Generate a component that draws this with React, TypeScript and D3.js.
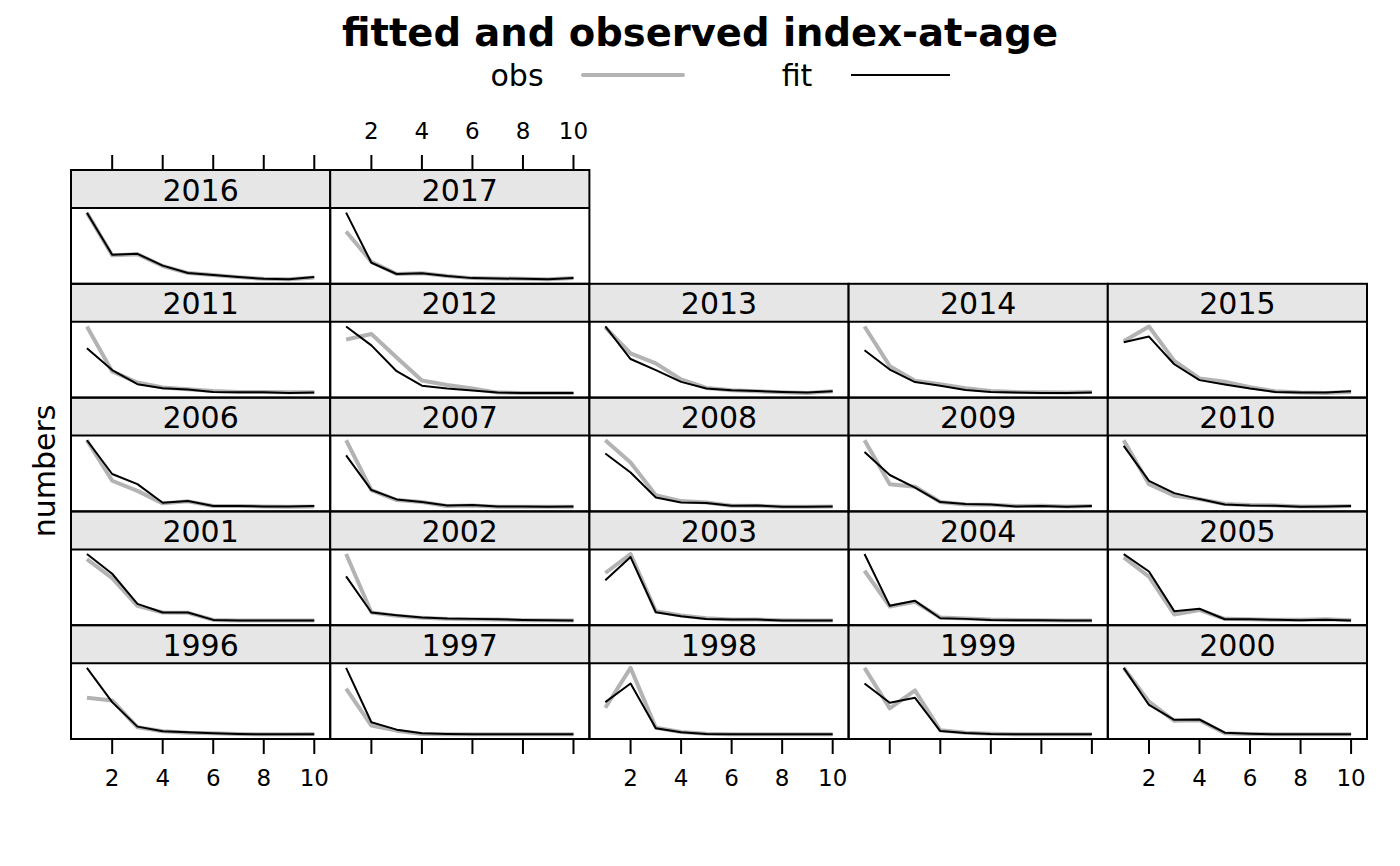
import React from "react";
import * as d3 from "d3";

const title = "fitted and observed index-at-age";
const yLabel = "numbers";
const ages = [1, 2, 3, 4, 5, 6, 7, 8, 9, 10];
const xTicks = [2, 4, 6, 8, 10];
const years = [1996, 1997, 1998, 1999, 2000, 2001, 2002, 2003, 2004, 2005, 2006, 2007, 2008, 2009, 2010, 2011, 2012, 2013, 2014, 2015, 2016, 2017];

// observed index (relative units), one row per year
const obsValues: number[][] = [
  [123, 115, 35, 23, 19, 17, 15, 14, 14, 15], // 1996
  [150, 40, 25, 15, 14, 14, 14, 14, 14, 14], // 1997
  [95, 215, 35, 22, 17, 15, 15, 15, 15, 15], // 1998
  [215, 93, 147, 27, 20, 17, 15, 15, 15, 15], // 1999
  [212, 112, 55, 57, 18, 16, 15, 15, 15, 15], // 2000
  [197, 140, 57, 37, 36, 15, 13, 13, 13, 13], // 2001
  [212, 37, 27, 21, 18, 17, 16, 14, 14, 13], // 2002
  [155, 212, 40, 27, 19, 15, 15, 13, 12, 12], // 2003
  [162, 55, 69, 22, 19, 16, 15, 14, 13, 13], // 2004
  [202, 145, 32, 45, 19, 18, 16, 16, 18, 15], // 2005
  [210, 90, 60, 23, 29, 15, 15, 14, 13, 14], // 2006
  [212, 63, 33, 27, 15, 17, 13, 13, 13, 13], // 2007
  [212, 145, 47, 29, 25, 15, 15, 12, 12, 13], // 2008
  [212, 80, 73, 27, 20, 19, 15, 16, 14, 15], // 2009
  [212, 80, 45, 35, 20, 17, 16, 13, 13, 14], // 2010
  [212, 78, 45, 30, 25, 20, 17, 17, 16, 16], // 2011
  [172, 188, 120, 53, 40, 30, 18, 17, 17, 17], // 2012
  [207, 130, 100, 52, 27, 20, 17, 14, 12, 17], // 2013
  [212, 95, 52, 42, 30, 22, 19, 18, 17, 19], // 2014
  [168, 212, 110, 58, 48, 32, 20, 16, 15, 18], // 2015
  [212, 86, 89, 54, 33, 27, 21, 16, 15, 20], // 2016
  [157, 68, 32, 34, 26, 20, 19, 18, 17, 20], // 2017
];

// fitted index, one row per year
const fitValues: number[][] = [
  [212, 110, 37, 23, 20, 17, 15, 14, 14, 14], // 1996
  [212, 50, 28, 17, 15, 14, 14, 14, 14, 14], // 1997
  [112, 168, 33, 21, 16, 15, 15, 15, 15, 15], // 1998
  [168, 110, 125, 25, 19, 16, 15, 15, 15, 15], // 1999
  [212, 102, 58, 59, 20, 17, 15, 15, 15, 15], // 2000
  [212, 153, 63, 37, 37, 15, 13, 13, 13, 13], // 2001
  [145, 37, 29, 22, 19, 18, 17, 15, 14, 13], // 2002
  [133, 203, 37, 25, 17, 15, 15, 12, 12, 12], // 2003
  [212, 57, 72, 20, 18, 15, 14, 14, 13, 13], // 2004
  [212, 160, 42, 49, 18, 18, 16, 15, 16, 14], // 2005
  [210, 110, 80, 25, 30, 15, 15, 14, 14, 15], // 2006
  [167, 63, 35, 27, 17, 18, 14, 14, 13, 14], // 2007
  [172, 115, 40, 25, 23, 15, 16, 12, 12, 13], // 2008
  [177, 108, 70, 27, 21, 20, 14, 15, 13, 15], // 2009
  [195, 90, 53, 35, 19, 16, 15, 12, 13, 14], // 2010
  [147, 82, 40, 28, 24, 17, 16, 16, 14, 15], // 2011
  [210, 155, 80, 38, 30, 24, 18, 17, 17, 17], // 2012
  [210, 113, 80, 45, 25, 20, 18, 15, 13, 17], // 2013
  [142, 85, 48, 37, 25, 19, 17, 16, 16, 17], // 2014
  [165, 182, 100, 53, 40, 28, 18, 16, 16, 20], // 2015
  [212, 87, 90, 55, 33, 27, 21, 16, 15, 21], // 2016
  [212, 65, 32, 34, 26, 20, 19, 18, 17, 20], // 2017
];

const W = 1400;
const H = 866;
const FONT = "'DejaVu Sans', sans-serif";
const NCOL = 5;
const NROW = 5;
const left = 71;
const right = 1367;
const top = 170;
const bottom = 739;
const colW = (right - left) / NCOL;
const rowH = (bottom - top) / NROW;
const stripH = 38;
const OBS_COLOR = "#b3b3b3";

export default function App() {
  const pad = 0.07;
  const xExt = 9;
  const xDomain: [number, number] = [1 - pad * xExt, 10 + pad * xExt];

  const panels = years.map((yr, i) => {
    const col = i % NCOL;
    const rowFromBottom = Math.floor(i / NCOL);
    const row = NROW - 1 - rowFromBottom;
    const x0 = left + col * colW;
    const y0 = top + row * rowH;
    const py0 = y0 + stripH;
    const py1 = y0 + rowH;
    const x = d3.scaleLinear().domain(xDomain).range([x0, x0 + colW]);
    const all = obsValues[i].concat(fitValues[i]);
    const mn = d3.min(all) as number;
    const mx = d3.max(all) as number;
    const r = mx - mn;
    const y = d3.scaleLinear().domain([mn - pad * r, mx + pad * r]).range([py1, py0]);
    const line = d3
      .line<number>()
      .x((_, k) => x(ages[k]))
      .y((v) => y(v));
    return { yr, i, col, row, x0, y0, py0, py1, x, obsPath: line(obsValues[i]) || "", fitPath: line(fitValues[i]) || "" };
  });

  return (
    <div style={{ position: "absolute", left: 0, top: 0 }}>
      <svg width={W} height={H} style={{ display: "block", background: "#fff" }} fontFamily={FONT}>
        <text x={700} y={32} textAnchor="middle" dominantBaseline="central" fontSize={38.5} fontWeight="bold">
          {title}
        </text>
        {/* legend */}
        <text x={517} y={75} textAnchor="middle" dominantBaseline="central" fontSize={30}>obs</text>
        <line x1={583} x2={683} y1={75} y2={75} stroke={OBS_COLOR} strokeWidth={4} strokeLinecap="round" />
        <text x={797} y={75} textAnchor="middle" dominantBaseline="central" fontSize={30}>fit</text>
        <line x1={851} x2={950} y1={75} y2={75} stroke="#000" strokeWidth={2} />

        <text
          transform={`translate(44,471) rotate(-90)`}
          textAnchor="middle"
          dominantBaseline="central"
          fontSize={30}
        >
          {yLabel}
        </text>

        {panels.map((p) => (
          <g key={p.yr}>
            <rect x={p.x0} y={p.y0} width={colW} height={stripH} fill="#e6e6e6" />
            <text
              x={p.x0 + colW / 2}
              y={p.y0 + stripH / 2 + 1}
              textAnchor="middle"
              dominantBaseline="central"
              fontSize={30}
            >
              {p.yr}
            </text>
            <path d={p.obsPath} fill="none" stroke={OBS_COLOR} strokeWidth={4} strokeLinejoin="round" />
            <path d={p.fitPath} fill="none" stroke="#000" strokeWidth={2} strokeLinejoin="round" />
            <line x1={p.x0} x2={p.x0 + colW} y1={p.py0} y2={p.py0} stroke="#000" strokeWidth={2} />
            <rect x={p.x0} y={p.y0} width={colW} height={rowH} fill="none" stroke="#000" strokeWidth={2} />
            {/* bottom axis */}
            {p.row === NROW - 1 &&
              xTicks.map((t) => (
                <g key={"b" + t}>
                  <line x1={p.x(t)} x2={p.x(t)} y1={p.py1} y2={p.py1 + 15} stroke="#000" strokeWidth={2} />
                  {p.col % 2 === 0 && (
                    <text x={p.x(t)} y={p.py1 + 39} textAnchor="middle" dominantBaseline="central" fontSize={23}>
                      {t}
                    </text>
                  )}
                </g>
              ))}
            {/* top axis */}
            {p.row === 0 &&
              xTicks.map((t) => (
                <g key={"t" + t}>
                  <line x1={p.x(t)} x2={p.x(t)} y1={p.y0} y2={p.y0 - 15} stroke="#000" strokeWidth={2} />
                  {p.col % 2 === 1 && (
                    <text x={p.x(t)} y={p.y0 - 39} textAnchor="middle" dominantBaseline="central" fontSize={23}>
                      {t}
                    </text>
                  )}
                </g>
              ))}
          </g>
        ))}
      </svg>
    </div>
  );
}
